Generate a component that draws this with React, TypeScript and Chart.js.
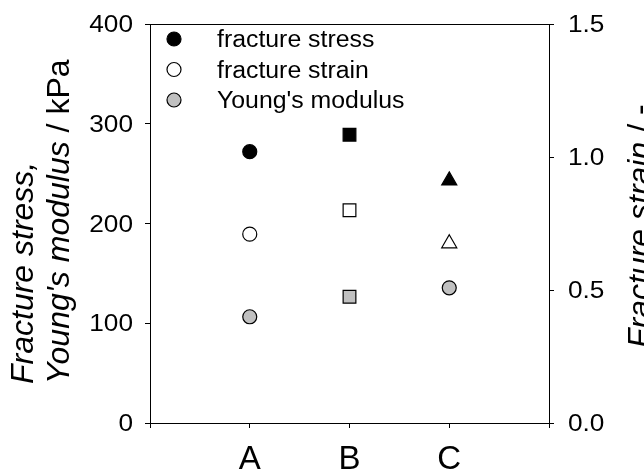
import { useEffect, useRef } from 'react';
import { Chart, registerables } from 'chart.js';

Chart.register(...registerables);

const categories = ['A', 'B', 'C'];
const fractureStress = [272, 289, 243];
const fractureStrain = [0.71, 0.8, 0.675];
const youngsModulus = [106.5, 126.5, 135.5];
const leftTickValues = [0, 100, 200, 300, 400];
const rightTickValues = [0, 0.5, 1.0, 1.5];
const legendLabels = ['fracture stress', 'fracture strain', "Young's modulus"];
const stressStrainStyles = ['circle', 'rect', 'triangle'];
const stressStrainRadii = [7, 9, 8.7];
const modulusStyles = ['circle', 'rect', 'circle'];
const modulusRadii = [7, 9, 7];

const SANS = '"Liberation Sans", Arial, sans-serif';
const STRETCH = 1.14;
const TICK_FONT = `23px ${SANS}`;
const GRAY = '#c0c0c0';

function stretchedText(ctx: CanvasRenderingContext2D, text: string, x: number, y: number, align: string, font: string, stretch = STRETCH) {
  ctx.save();
  ctx.font = font;
  ctx.textBaseline = 'alphabetic';
  ctx.textAlign = 'left';
  ctx.fillStyle = '#000';
  const w = ctx.measureText(text).width * stretch;
  let left = x;
  if (align === 'right') left = x - w;
  else if (align === 'center') left = x - w / 2;
  ctx.translate(left, y);
  ctx.scale(stretch, 1);
  ctx.fillText(text, 0, 0);
  ctx.restore();
}

function rotatedMixed(ctx: CanvasRenderingContext2D, parts: [string, boolean][], baseX: number, startY: number, size: number) {
  ctx.save();
  ctx.translate(baseX, startY);
  ctx.rotate(-Math.PI / 2);
  ctx.textAlign = 'left';
  ctx.textBaseline = 'alphabetic';
  ctx.fillStyle = '#000';
  let cx = 0;
  for (const [text, italic] of parts) {
    ctx.font = `${italic ? 'italic ' : ''}${size}px ${SANS}`;
    ctx.fillText(text, cx, 0);
    cx += ctx.measureText(text).width;
  }
  ctx.restore();
}

const decorPlugin = {
  id: 'decor',
  afterDraw(chart: any) {
    const ctx: CanvasRenderingContext2D = chart.ctx;
    const { left, right, top, bottom } = chart.chartArea;
    const x = chart.scales.x;
    const y = chart.scales.y;
    const y1 = chart.scales.y1;

    // top border of the frame
    ctx.save();
    ctx.strokeStyle = '#000';
    ctx.lineWidth = 1;
    ctx.beginPath();
    ctx.moveTo(left, Math.round(top) + 0.5);
    ctx.lineTo(right, Math.round(top) + 0.5);
    ctx.stroke();
    ctx.restore();

    // left tick labels
    leftTickValues.forEach((v) => {
      const py = y.getPixelForValue(v);
      stretchedText(ctx, String(v), left - 17, py + 8, 'right', TICK_FONT);
    });
    // right tick labels
    rightTickValues.forEach((v) => {
      const py = y1.getPixelForValue(v);
      stretchedText(ctx, v.toFixed(1), right + 19, py + 8, 'left', TICK_FONT);
    });
    // category labels
    categories.forEach((c, i) => {
      const px = x.getPixelForValue(i + 1);
      stretchedText(ctx, c, px, bottom + 46, 'center', `33px ${SANS}`, 1.0);
    });

    // legend
    const fills = ['#000', '#fff', GRAY];
    legendLabels.forEach((lab, i) => {
      const my = top + 15 + i * 30.5;
      const mx = left + 24;
      ctx.save();
      ctx.beginPath();
      ctx.arc(mx, my, 7, 0, Math.PI * 2);
      ctx.fillStyle = fills[i];
      ctx.fill();
      ctx.lineWidth = 1.2;
      ctx.strokeStyle = '#000';
      ctx.stroke();
      ctx.restore();
      stretchedText(ctx, lab, left + 67, my + 8, 'left', TICK_FONT, 1.08);
    });

    // axis titles
    rotatedMixed(ctx, [['Fracture stress,', true]], 33, 384, 32);
    rotatedMixed(ctx, [["Young's modulus", true], [' / kPa', false]], 69, 384, 32);
    rotatedMixed(ctx, [['Fracture strain', true], [' / -', false]], 650, 348, 32);
  },
};

export default function App() {
  const ref = useRef<HTMLCanvasElement | null>(null);
  useEffect(() => {
    if (!ref.current) return;
    const toPts = (vals: number[]) => vals.map((v, i) => ({ x: i + 1, y: v }));
    const mk = (label: string, data: number[], fill: string, axis: string, styles: string[], radii: number[]) => ({
      label,
      data: toPts(data),
      yAxisID: axis,
      pointStyle: styles,
      pointRadius: radii,
      pointHoverRadius: radii,
      pointBackgroundColor: fill,
      pointBorderColor: '#000',
      pointBorderWidth: 1.2,
      showLine: false,
    });
    const axisCommon = {
      grid: { display: true, drawOnChartArea: false, drawTicks: true, tickLength: 5, color: '#000', lineWidth: 1 },
      border: { display: true, color: '#000', width: 1 },
    };
    const chart = new Chart(ref.current, {
      type: 'scatter',
      data: {
        datasets: [
          mk('fracture stress', fractureStress, '#000', 'y', stressStrainStyles, stressStrainRadii),
          mk('fracture strain', fractureStrain, '#fff', 'y1', stressStrainStyles, stressStrainRadii),
          mk("Young's modulus", youngsModulus, GRAY, 'y', modulusStyles, modulusRadii),
        ],
      },
      options: {
        responsive: false,
        animation: false,
        layout: { padding: { top: 24, left: 0, right: 0, bottom: 0 } },
        plugins: { legend: { display: false }, tooltip: { enabled: false } },
        scales: {
          x: {
            type: 'linear',
            min: 0,
            max: 4,
            ...axisCommon,
            ticks: { display: false, stepSize: 1 },
            afterFit: (s: any) => { s.height = 48; },
          },
          y: {
            type: 'linear',
            position: 'left',
            min: 0,
            max: 400,
            ...axisCommon,
            ticks: { display: false, stepSize: 100 },
            afterFit: (s: any) => { s.width = 150; },
          },
          y1: {
            type: 'linear',
            position: 'right',
            min: 0,
            max: 1.5,
            ...axisCommon,
            ticks: { display: false, stepSize: 0.5 },
            afterFit: (s: any) => { s.width = 95; },
          },
        },
      },
      plugins: [decorPlugin],
    } as any);
    return () => chart.destroy();
  }, []);
  return (
    <div style={{ position: 'fixed', left: 0, top: 0, width: 644, height: 471, background: '#fff' }}>
      <canvas ref={ref} width={644} height={471} style={{ display: 'block' }} />
    </div>
  );
}
